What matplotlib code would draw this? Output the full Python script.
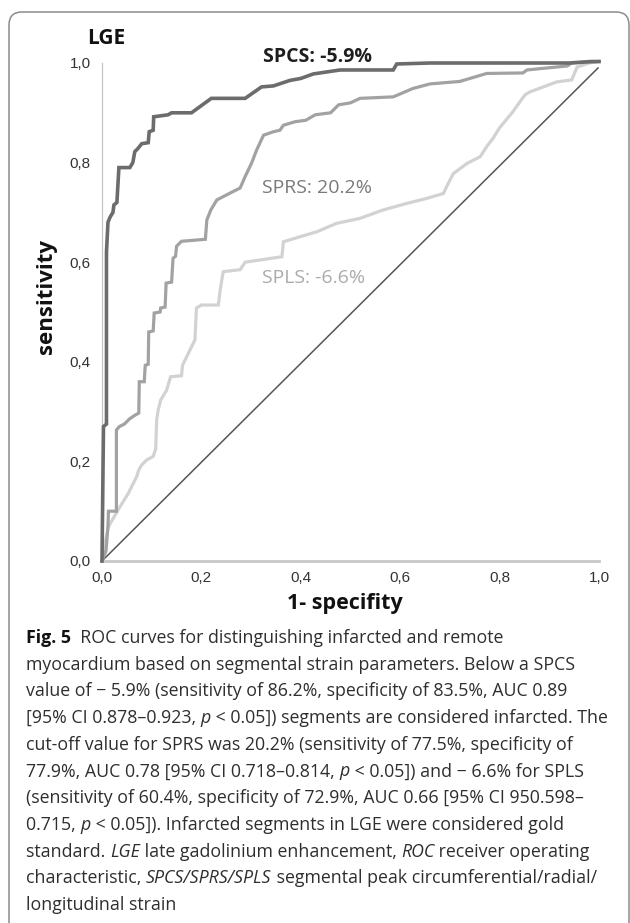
import matplotlib
matplotlib.use("Agg")
import matplotlib.pyplot as plt
from matplotlib.patches import FancyBboxPatch
from matplotlib.transforms import IdentityTransform

# ---------------- data ----------------
spcs_fpr = [0.0, 0.003, 0.009, 0.009, 0.012, 0.016, 0.022, 0.024, 0.030, 0.034, 0.056, 0.062,
            0.066, 0.072, 0.080, 0.093, 0.095, 0.103, 0.104, 0.133, 0.140, 0.180, 0.220, 0.288,
            0.321, 0.345, 0.378, 0.400, 0.425, 0.479, 0.586, 0.593, 0.660, 0.940, 0.985, 1.0]
spcs_tpr = [0.0, 0.270, 0.275, 0.620, 0.680, 0.690, 0.700, 0.715, 0.720, 0.790, 0.790, 0.800,
            0.822, 0.828, 0.838, 0.840, 0.862, 0.865, 0.892, 0.896, 0.900, 0.900, 0.929, 0.929,
            0.952, 0.954, 0.965, 0.969, 0.978, 0.986, 0.986, 0.998, 1.000, 1.000, 1.003, 1.003]

sprs_fpr = [0.0, 0.008, 0.012, 0.013, 0.029, 0.029, 0.035, 0.045, 0.055, 0.065, 0.074, 0.075,
            0.085, 0.087, 0.093, 0.094, 0.103, 0.105, 0.117, 0.118, 0.127, 0.129, 0.140, 0.143,
            0.148, 0.150, 0.160, 0.208, 0.211, 0.219, 0.231, 0.260, 0.278, 0.288, 0.301, 0.311,
            0.325, 0.345, 0.358, 0.365, 0.388, 0.410, 0.429, 0.460, 0.476, 0.500, 0.519, 0.586,
            0.626, 0.660, 0.720, 0.774, 0.847, 0.855, 0.895, 0.936, 0.945, 1.0]
sprs_tpr = [0.0, 0.020, 0.070, 0.100, 0.100, 0.263, 0.270, 0.275, 0.285, 0.292, 0.297, 0.360,
            0.360, 0.393, 0.395, 0.460, 0.462, 0.498, 0.500, 0.508, 0.510, 0.558, 0.560, 0.608,
            0.612, 0.632, 0.642, 0.646, 0.685, 0.705, 0.725, 0.740, 0.749, 0.772, 0.799, 0.825,
            0.855, 0.862, 0.865, 0.875, 0.882, 0.885, 0.896, 0.900, 0.916, 0.920, 0.929, 0.932,
            0.949, 0.958, 0.963, 0.979, 0.980, 0.986, 0.990, 0.994, 1.000, 1.003]

spls_fpr = [0.0, 0.005, 0.010, 0.013, 0.032, 0.053, 0.070, 0.074, 0.080, 0.090, 0.103, 0.108,
            0.110, 0.113, 0.118, 0.130, 0.138, 0.160, 0.162, 0.187, 0.190, 0.200, 0.234, 0.237,
            0.240, 0.244, 0.278, 0.288, 0.362, 0.365, 0.398, 0.432, 0.472, 0.519, 0.566, 0.613,
            0.653, 0.687, 0.697, 0.707, 0.734, 0.761, 0.774, 0.787, 0.800, 0.825, 0.851, 0.861,
            0.915, 0.945, 0.956, 0.980, 1.0]
spls_tpr = [0.0, 0.030, 0.055, 0.069, 0.102, 0.136, 0.170, 0.183, 0.193, 0.203, 0.210, 0.225,
            0.283, 0.303, 0.323, 0.343, 0.370, 0.372, 0.393, 0.444, 0.508, 0.514, 0.514, 0.538,
            0.558, 0.581, 0.585, 0.600, 0.611, 0.641, 0.651, 0.661, 0.678, 0.688, 0.705, 0.718,
            0.728, 0.738, 0.759, 0.778, 0.798, 0.812, 0.832, 0.849, 0.870, 0.900, 0.936, 0.942,
            0.962, 0.966, 0.992, 1.000, 1.003]

diag_x = [0.0, 0.998]
diag_y = [0.0, 0.990]

tick_values = [0.0, 0.2, 0.4, 0.6, 0.8, 1.0]
tick_labels = ["0,0", "0,2", "0,4", "0,6", "0,8", "1,0"]

curve_labels = ["SPCS: -5.9%", "SPRS: 20.2%", "SPLS: -6.6%"]

caption_lines = [
    [("Fig. 5", "b"), ("  ROC curves for distinguishing infarcted and remote", "n")],
    [("myocardium based on segmental strain parameters. Below a SPCS", "n")],
    [("value of \u2212 5.9% (sensitivity of 86.2%, specificity of 83.5%, AUC 0.89", "n")],
    [("[95% CI 0.878\u20130.923, ", "n"), ("p", "i"), (" < 0.05]) segments are considered infarcted. The", "n")],
    [("cut-off value for SPRS was 20.2% (sensitivity of 77.5%, specificity of", "n")],
    [("77.9%, AUC 0.78 [95% CI 0.718\u20130.814, ", "n"), ("p", "i"), (" < 0.05]) and \u2212 6.6% for SPLS", "n")],
    [("(sensitivity of 60.4%, specificity of 72.9%, AUC 0.66 [95% CI 950.598\u2013", "n")],
    [("0.715, ", "n"), ("p", "i"), (" < 0.05]). Infarcted segments in LGE were considered gold", "n")],
    [("standard. ", "n"), ("LGE", "i"), (" late gadolinium enhancement, ", "n"), ("ROC", "i"), (" receiver operating", "n")],
    [("characteristic, ", "n"), ("SPCS/SPRS/SPLS", "i"), (" segmental peak circumferential/radial/", "n")],
    [("longitudinal strain", "n")],
]

# ---------------- figure ----------------
W, H = 630, 923
fig = plt.figure(figsize=(W / 100, H / 100), dpi=100)
fig.patch.set_facecolor("white")

# rounded frame
box = FancyBboxPatch((9, -40), 620, 951, boxstyle="round,pad=0,rounding_size=13",
                     transform=IdentityTransform(), facecolor="none",
                     edgecolor="#8c8c8c", linewidth=1.1)
fig.patches.append(box)

ax = fig.add_axes([102 / W, (H - 561) / H, 497 / W, 498 / H])
ax.set_xlim(0, 1)
ax.set_ylim(0, 1)
for s in ["top", "right"]:
    ax.spines[s].set_visible(False)
ax.spines["left"].set_color("#c4c4c4")
ax.spines["left"].set_linewidth(0.9)
ax.spines["bottom"].set_color("#c8c8c8")
ax.spines["bottom"].set_linewidth(2.0)
ax.spines["left"].set_zorder(0)
ax.spines["bottom"].set_zorder(0)

ax.set_xticks(tick_values)
ax.set_xticklabels(tick_labels)
ax.set_yticks(tick_values)
ax.set_yticklabels(tick_labels)
ax.tick_params(length=0, labelsize=11, labelcolor="#333333")
ax.tick_params(axis="y", pad=8)
ax.tick_params(axis="x", pad=7)
for lab in ax.get_xticklabels() + ax.get_yticklabels():
    lab.set_fontfamily("Liberation Sans")

ax.plot(diag_x, diag_y, color="#555555", lw=1.1, zorder=2)
ax.plot(spls_fpr, spls_tpr, color="#d2d2d2", lw=2.3, zorder=3, clip_on=False, solid_joinstyle="miter")
ax.plot(sprs_fpr, sprs_tpr, color="#a2a2a2", lw=2.3, zorder=4, clip_on=False, solid_joinstyle="miter")
ax.plot(spcs_fpr, spcs_tpr, color="#6c6c6c", lw=2.6, zorder=5, clip_on=False, solid_joinstyle="miter")

ax.text(0.433, 1.012, curve_labels[0], ha="center", va="center", fontsize=14,
        fontweight="bold", color="#1e1e1e", family="Open Sans")
ax.text(0.432, 0.748, curve_labels[1], ha="center", va="center", fontsize=14,
        color="#7a7a7a", family="Open Sans")
ax.text(0.425, 0.568, curve_labels[2], ha="center", va="center", fontsize=14,
        color="#ababab", family="Open Sans")

# axis titles
fig.text(87 / W, (H - 38) / H, "LGE", ha="left", va="center", fontsize=15,
         fontweight="bold", family="Open Sans", color="#111111")
fig.text(47 / W, (H - 297) / H, "sensitivity", ha="center", va="center", rotation=90,
         fontsize=16, fontweight="bold", family="Open Sans", color="#111111")
fig.text(345 / W, (H - 603) / H, "1- specifity", ha="center", va="center",
         fontsize=15.5, fontweight="bold", family="Open Sans", color="#111111")

# caption
renderer = fig.canvas.get_renderer()
cap_top = 638
cap_step = 26.7
for i, runs in enumerate(caption_lines):
    x = 26
    y = H - (cap_top + i * cap_step)
    for txt, st in runs:
        kw = dict(fontsize=12.8, family=["Open Sans", "DejaVu Sans"], color="#2e2e2e",
                  ha="left", va="center", transform=IdentityTransform())
        if st == "b":
            kw["fontweight"] = "bold"
            kw["color"] = "#111111"
        elif st == "i":
            kw["fontstyle"] = "italic"
        t = fig.text(x, y, txt, **kw)
        bb = t.get_window_extent(renderer)
        x += bb.width

fig.savefig("out.png", dpi=100)
